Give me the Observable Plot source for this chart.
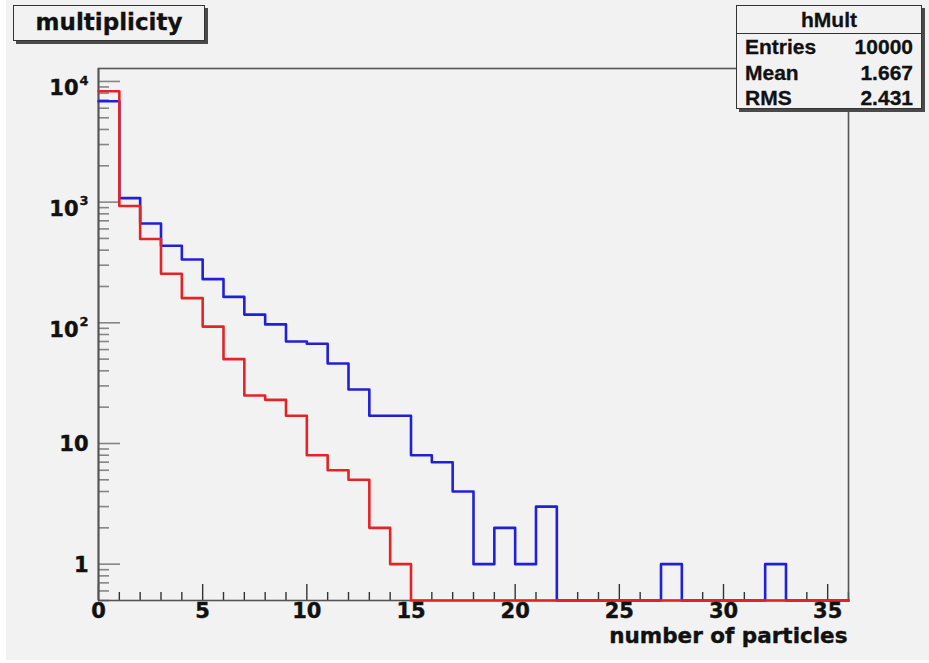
<!DOCTYPE html>
<html>
<head>
<meta charset="utf-8">
<script src="https://cdn.jsdelivr.net/npm/d3@7"></script>
<script src="https://cdn.jsdelivr.net/npm/@observablehq/plot@0.6"></script>
<style>
  html, body { margin: 0; padding: 0; background: #ffffff; }
  #canvas { position: relative; width: 929px; height: 663px; overflow: hidden; background: #ffffff; }
  #pad { position: absolute; left: 6px; top: 0; width: 923px; height: 660px; background: #f2f2f2; }
  #chart { position: absolute; left: 0; top: 0; }
  .box {
    position: absolute; background: #f2f2f2; border: 1.5px solid #333;
    box-shadow: 3px 3px 0 #4a4a4a; box-sizing: border-box; color: #111;
    -webkit-text-stroke: 0.3px #111;
  }
  #title {
    left: 13px; top: 5px; width: 192px; height: 36px;
    font: bold 23px "DejaVu Sans", sans-serif; text-align: center; line-height: 33px;
  }
  #stats { left: 736px; top: 5px; width: 186px; height: 104px; font: bold 21px "Liberation Sans", Arial, sans-serif; }
  #stats .head { height: 27px; line-height: 28px; text-align: center; border-bottom: 1.5px solid #333; }
  #stats .row { display: flex; justify-content: space-between; padding: 0 8px 0 8px; height: 25.5px; line-height: 26px; }
</style>
</head>
<body>
<div id="canvas">
  <div id="pad"></div>
  <div id="chart"></div>
  <div class="box" id="title"></div>
  <div class="box" id="stats"></div>
</div>
<script>
// Histogram contents: one count per unit bin, bins 0..35
const nBins = 36;
const multBlue = [6850, 1080, 665, 435, 335, 230, 164, 117, 97, 70, 67, 46, 28, 17, 17, 8, 7, 4, 1, 2, 1, 3,
                  0, 0, 0, 0, 0, 1, 0, 0, 0, 0, 1, 0, 0, 0];
const multRed  = [8300, 930, 495, 255, 160, 93, 50, 25, 23, 17, 8, 6, 5, 2, 1, 0, 0, 0, 0, 0, 0, 0,
                  0, 0, 0, 0, 0, 0, 0, 0, 0, 0, 0, 0, 0, 0];

// Axis labelling
const xTickValues = [0, 5, 10, 15, 20, 25, 30, 35];
const yTickValues = [1, 10, 100, 1000, 10000];
const yTickBase   = ["1", "10", "10", "10", "10"];
const yTickExp    = ["", "", "2", "3", "4"];
const xTitle = "number of particles";
const histTitle = "multiplicity";

// Statistics box
const statsName = "hMult";
const statsLabels = ["Entries", "Mean", "RMS"];
const statsValues = ["10000", "1.667", "2.431"];

// Layout
const W = 929, H = 663;
const mLeft = 98, mRight = 81, mTop = 68, mBottom = 63;
const frameW = W - mLeft - mRight, frameH = H - mTop - mBottom;
const yMin = 0.5, yMax = 12800;
const font = "DejaVu Sans";
const ink = "#111";

// Step outline of a histogram; empty bins sit on the lower frame edge
function outline(counts) {
  const pts = counts.map((c, i) => ({x: i, y: c > 0 ? c : yMin}));
  pts.push({x: nBins, y: pts[pts.length - 1].y});
  return pts;
}

// Minor ticks
const yMinor = [];
for (const dec of [0.1, 1, 10, 100, 1000]) {
  for (let m = 2; m <= 9; m++) {
    const v = m * dec;
    if (v >= yMin && v <= yMax) yMinor.push(v);
  }
}
const xMinor = d3.range(0, nBins + 1).filter(v => v % 5 !== 0);

const yLabels = yTickValues.map((v, i) => ({v, base: yTickBase[i], exp: yTickExp[i]}));
const plainY = yLabels.filter(d => !d.exp);
const powY = yLabels.filter(d => d.exp);

const tickColor = "#858585";
const textStyle = {fontFamily: font, fontWeight: "bold", fill: ink, stroke: ink, strokeWidth: 0.4};

const chart = Plot.plot({
  width: W, height: H,
  marginLeft: mLeft, marginRight: mRight, marginTop: mTop, marginBottom: mBottom,
  style: {background: "transparent", overflow: "visible"},
  x: {domain: [0, nBins], axis: null},
  y: {type: "log", domain: [yMin, yMax], axis: null},
  marks: [
    // y ticks (pointing into the frame)
    Plot.tickY(yTickValues, {y: d => d, stroke: tickColor, strokeWidth: 1.6, insetRight: frameW - 22}),
    Plot.tickY(yMinor, {y: d => d, stroke: tickColor, strokeWidth: 1.6, insetRight: frameW - 11}),
    // x ticks
    Plot.tickX(xTickValues, {x: d => d, stroke: "#333", strokeWidth: 1.4, insetTop: frameH - 16}),
    Plot.tickX(xMinor, {x: d => d, stroke: "#333", strokeWidth: 1.4, insetTop: frameH - 8}),
    // frame and axis lines
    Plot.frame({stroke: "#555", strokeWidth: 1.6}),
    Plot.ruleX([0], {stroke: "#555", strokeWidth: 1.8}),
    // histograms, drawn over the frame so empty bins run along its lower edge
    Plot.line(outline(multBlue), {x: "x", y: "y", curve: "step-after", stroke: "#2020d8", strokeWidth: 2.6}),
    Plot.line(outline(multRed), {x: "x", y: "y", curve: "step-after", stroke: "#e42424", strokeWidth: 2.6}),
    // y tick labels
    Plot.text(plainY, {y: "v", text: "base", frameAnchor: "left", textAnchor: "end", dx: -10, dy: 1,
      fontSize: 21, ...textStyle}),
    Plot.text(powY, {y: "v", text: "base", frameAnchor: "left", textAnchor: "end", dx: -20, dy: 7,
      fontSize: 21, ...textStyle}),
    Plot.text(powY, {y: "v", text: "exp", frameAnchor: "left", textAnchor: "start", dx: -19, dy: -1,
      fontSize: 13, ...textStyle, strokeWidth: 0.3}),
    // x tick labels
    Plot.text(xTickValues, {x: d => d, text: d => String(d), frameAnchor: "bottom", dy: 17,
      fontSize: 21, ...textStyle}),
    // x axis title
    Plot.text([xTitle], {text: d => d, frameAnchor: "bottom-right", textAnchor: "end", dx: -1, dy: 42,
      fontSize: 21.5, ...textStyle})
  ]
});
document.getElementById("chart").appendChild(chart);

document.getElementById("title").textContent = histTitle;

const stats = document.getElementById("stats");
const head = document.createElement("div");
head.className = "head";
head.textContent = statsName;
stats.appendChild(head);
statsLabels.forEach((lab, i) => {
  const row = document.createElement("div");
  row.className = "row";
  const a = document.createElement("span"); a.textContent = lab;
  const b = document.createElement("span"); b.textContent = statsValues[i];
  row.appendChild(a); row.appendChild(b);
  stats.appendChild(row);
});
</script>
</body>
</html>
